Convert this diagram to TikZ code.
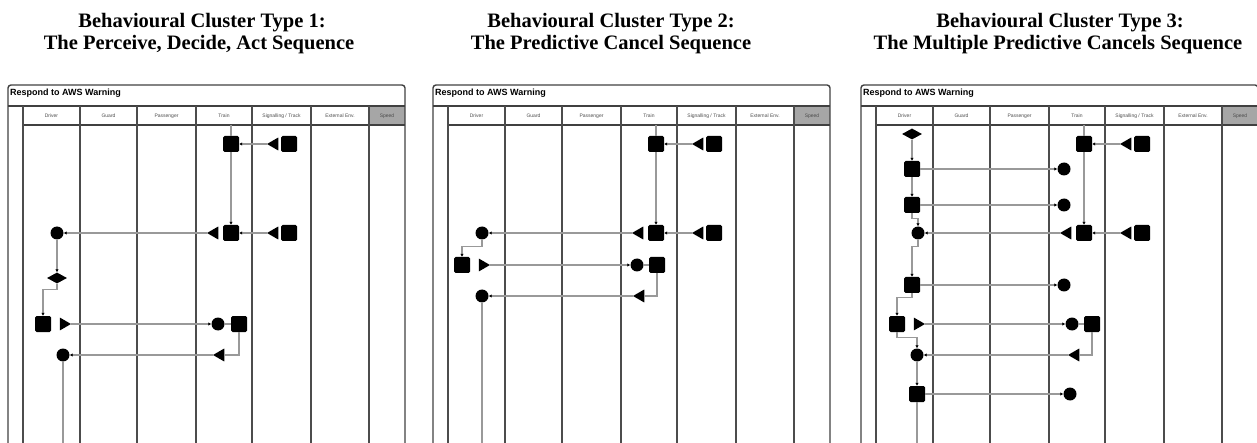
\documentclass[tikz,border=0pt]{standalone}
\usepackage{fontspec}
\setmainfont{Liberation Serif}
\setsansfont{Liberation Sans}
\usetikzlibrary{shapes.geometric,arrows.meta}
\begin{document}
\begin{tikzpicture}[x=1pt,y=-1pt,
  frame/.style={draw=black!75,line width=1.4pt},
  lane/.style={draw=black!70,line width=1.6pt},
  sq/.style={rectangle,fill=black,minimum size=16pt,inner sep=0pt,rounded corners=1.5pt},
  circ/.style={circle,fill=black,minimum size=13pt,inner sep=0pt},
  dia/.style={diamond,fill=black,minimum width=20pt,minimum height=11pt,inner sep=0pt},
  triL/.style={regular polygon,regular polygon sides=3,regular polygon rotate=90,fill=black,minimum size=15pt,inner sep=0pt},
  triR/.style={regular polygon,regular polygon sides=3,regular polygon rotate=-90,fill=black,minimum size=15pt,inner sep=0pt},
  conn/.style={draw=black!40,line width=1.3pt,-{Latex[length=3pt,width=3.5pt,color=black]}},
  link/.style={draw=black!40,line width=1.3pt},
  title/.style={font=\fontsize{20.5}{22}\selectfont\bfseries,anchor=base,inner sep=0pt},
  lanelbl/.style={font=\sffamily\fontsize{5}{6}\selectfont,text=black!70,inner sep=0pt},
  boxlbl/.style={font=\sffamily\bfseries\fontsize{9}{10}\selectfont,anchor=base west,inner sep=0pt}
]
\useasboundingbox (0,0) rectangle (1257,443);

% titles
\node[title] (t1a) at (202,28) {Behavioural Cluster Type 1:};
\node[title] (t1b) at (199,50) {The Perceive, Decide, Act Sequence};
\node[title] (t2a) at (611,28) {Behavioural Cluster Type 2:};
\node[title] (t2b) at (611,50) {The Predictive Cancel Sequence};
\node[title] (t3a) at (1060,28) {Behavioural Cluster Type 3:};
\node[title] (t3b) at (1058,50) {The Multiple Predictive Cancels Sequence};

% swimlane frames
\foreach \dx/\p in {0/a,425/b,853/c}{
\begin{scope}[xshift=\dx pt]
  \fill[black!35] (369,106) rectangle (405,125);
  \draw[frame,rounded corners=3pt] (8,443) -- (8,85) -- (405,85) -- (405,443);
  \draw[frame] (8,106) -- (405,106);
  \draw[frame] (23,125) -- (405,125);
  \foreach \x in {23,80,137,196,252,311,369}{\draw[lane] (\x,106) -- (\x,443);}
  \node[boxlbl] (\p-hdr) at (10,96) {Respond to AWS Warning};
  \node[lanelbl] (\p-l1) at (51.5,116) {Driver};
  \node[lanelbl] (\p-l2) at (108.5,116) {Guard};
  \node[lanelbl] (\p-l3) at (166.5,116) {Passenger};
  \node[lanelbl] (\p-l4) at (224,116) {Train};
  \node[lanelbl] (\p-l5) at (281.5,116) {Signalling / Track};
  \node[lanelbl] (\p-l6) at (340,116) {External Env.};
  \node[lanelbl] (\p-l7) at (387,116) {Speed};
\end{scope}
}

% ---------- panel 1 ----------
\coordinate (p1top) at (231,125);
\coordinate (p1bot) at (63,443);
\node[sq] (p1A1) at (231,144) {};
\node[triL] (p1T1) at (274.5,144) {};
\node[sq] (p1B1) at (289,144) {};
\node[sq] (p1A2) at (231,233) {};
\node[triL] (p1T2) at (214.5,233) {};
\node[triL] (p1T3) at (274.5,233) {};
\node[sq] (p1B2) at (289,233) {};
\node[circ] (p1C1) at (57,233) {};
\node[dia] (p1D1) at (57,278) {};
\node[sq] (p1E1) at (43,324) {};
\node[triR] (p1T4) at (63.5,324) {};
\node[circ] (p1C2) at (218,324) {};
\node[sq] (p1F1) at (239,324) {};
\node[triL] (p1T5) at (220.5,355) {};
\node[circ] (p1C3) at (63,355) {};
\draw[link] (p1top) -- (p1A1);
\draw[conn] (p1T1) -- (p1A1);
\draw[conn] (p1A1) -- (p1A2);
\draw[conn] (p1T2) -- (p1C1);
\draw[conn] (p1T3) -- (p1A2);
\draw[conn] (p1C1) -- (p1D1);
\draw[conn] (p1D1.south) -- ++(0,6) -| (p1E1.north);
\draw[conn] (p1T4) -- (p1C2);
\draw[link] (p1C2) -- (p1F1);
\draw[link] (p1F1.south) |- (p1T5);
\draw[conn] (p1T5) -- (p1C3);
\draw[link] (p1C3) -- (p1bot);

% ---------- panel 2 ----------
\coordinate (p2top) at (656,125);
\coordinate (p2bot) at (482,443);
\node[sq] (p2A1) at (656,144) {};
\node[triL] (p2T1) at (699.5,144) {};
\node[sq] (p2B1) at (714,144) {};
\node[sq] (p2A2) at (656,233) {};
\node[triL] (p2T2) at (639.5,233) {};
\node[triL] (p2T3) at (699.5,233) {};
\node[sq] (p2B2) at (714,233) {};
\node[circ] (p2C1) at (482,233) {};
\node[sq] (p2E1) at (462,265) {};
\node[triR] (p2T4) at (482.5,265) {};
\node[circ] (p2C2) at (637,265) {};
\node[sq] (p2F1) at (657,265) {};
\node[triL] (p2T5) at (640.5,296) {};
\node[circ] (p2C3) at (482,296) {};
\draw[link] (p2top) -- (p2A1);
\draw[conn] (p2T1) -- (p2A1);
\draw[conn] (p2A1) -- (p2A2);
\draw[conn] (p2T2) -- (p2C1);
\draw[conn] (p2T3) -- (p2A2);
\draw[conn] (p2C1.south) -- ++(0,7) -| (p2E1.north);
\draw[conn] (p2T4) -- (p2C2);
\draw[link] (p2C2) -- (p2F1);
\draw[link] (p2F1.south) |- (p2T5);
\draw[conn] (p2T5) -- (p2C3);
\draw[link] (p2C3) -- (p2bot);

% ---------- panel 3 ----------
\coordinate (p3top) at (1084,125);
\coordinate (p3bot) at (917,443);
\node[dia] (p3D0) at (912,134) {};
\node[sq] (p3S1) at (912,169) {};
\node[circ] (p3R1) at (1064,169) {};
\node[sq] (p3A1) at (1084,144) {};
\node[triL] (p3T1) at (1127.5,144) {};
\node[sq] (p3B1) at (1142,144) {};
\node[sq] (p3S2) at (912,205) {};
\node[circ] (p3R2) at (1064,205) {};
\node[sq] (p3A2) at (1084,233) {};
\node[triL] (p3T2) at (1067.5,233) {};
\node[triL] (p3T3) at (1127.5,233) {};
\node[sq] (p3B2) at (1142,233) {};
\node[circ] (p3C1) at (918,233) {};
\node[sq] (p3S3) at (912,285) {};
\node[circ] (p3R3) at (1064,285) {};
\node[sq] (p3S4) at (897,324) {};
\node[triR] (p3T4) at (917.5,324) {};
\node[circ] (p3R4) at (1072,324) {};
\node[sq] (p3F1) at (1092,324) {};
\node[triL] (p3T5) at (1075.5,355) {};
\node[circ] (p3C5) at (917,355) {};
\node[sq] (p3S5) at (917,394) {};
\node[circ] (p3R5) at (1070,394) {};
\draw[conn] (p3D0) -- (p3S1);
\draw[conn] (p3S1) -- (p3R1);
\draw[link] (p3top) -- (p3A1);
\draw[conn] (p3T1) -- (p3A1);
\draw[conn] (p3A1) -- (p3A2);
\draw[conn] (p3S1) -- (p3S2);
\draw[conn] (p3S2) -- (p3R2);
\draw[conn] (p3S2.south) -- ++(0,5) -| (p3C1.north);
\draw[conn] (p3T2) -- (p3C1);
\draw[conn] (p3T3) -- (p3A2);
\draw[conn] (p3C1.south) -- ++(0,7) -| (p3S3.north);
\draw[conn] (p3S3) -- (p3R3);
\draw[conn] (p3S3.south) -- ++(0,4) -| (p3S4.north);
\draw[conn] (p3T4) -- (p3R4);
\draw[link] (p3R4) -- (p3F1);
\draw[link] (p3F1.south) |- (p3T5);
\draw[conn] (p3T5) -- (p3C5);
\draw[conn] (p3S4.south) -- ++(0,5) -| (p3C5.north);
\draw[conn] (p3C5) -- (p3S5);
\draw[conn] (p3S5) -- (p3R5);
\draw[link] (p3S5) -- (p3bot);
\end{tikzpicture}
\end{document}
